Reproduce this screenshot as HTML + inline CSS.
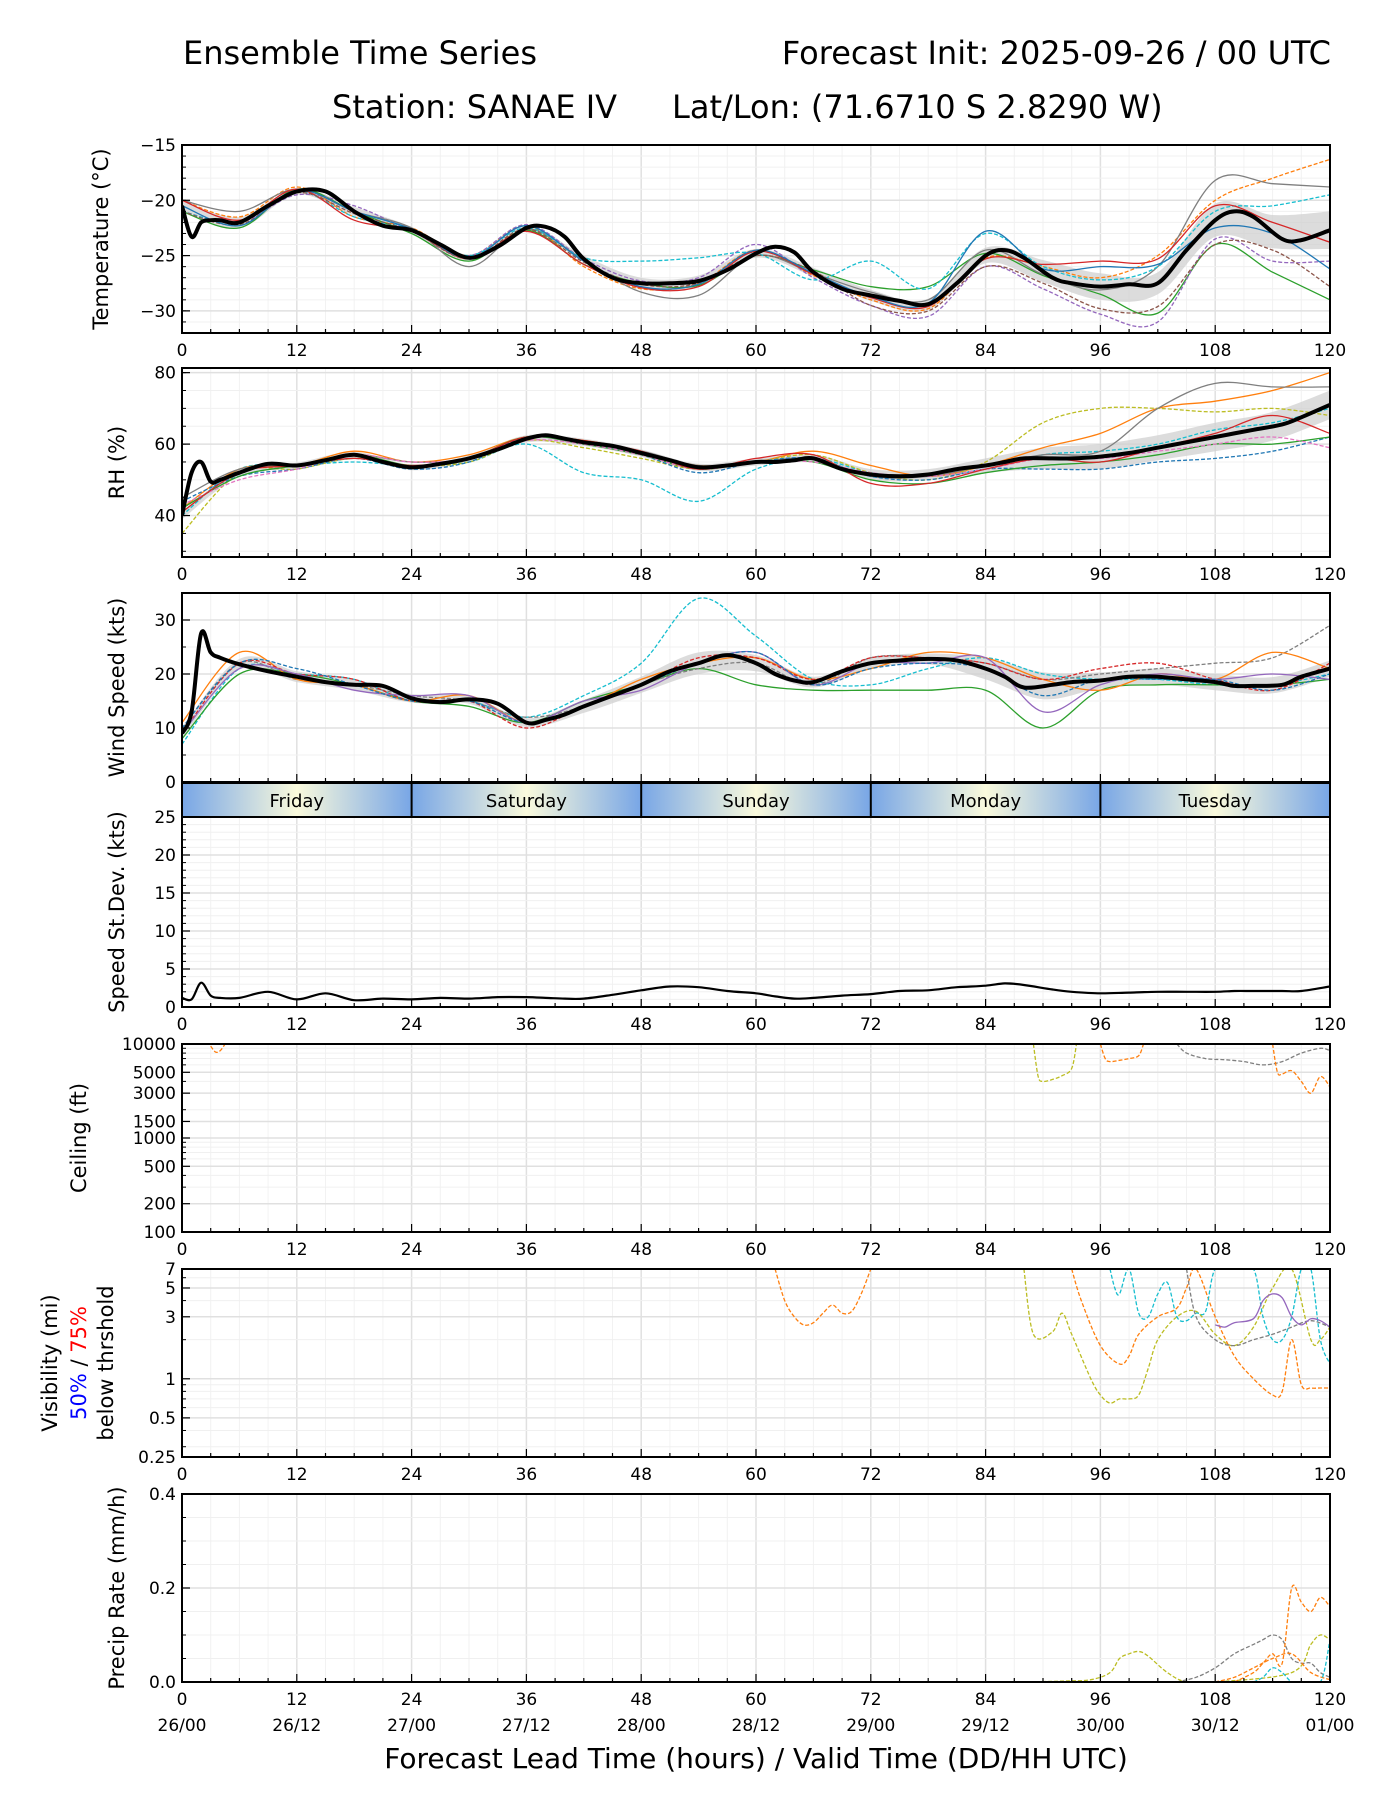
<!DOCTYPE html>
<html><head><meta charset="utf-8"><style>
body{margin:0;background:#fff;}
svg{display:block;font-family:"DejaVu Sans","Liberation Sans",sans-serif;}
</style></head><body>
<svg id="chart" width="1400" height="1800" viewBox="0 0 1400 1800" xmlns="http://www.w3.org/2000/svg">
<rect width="1400" height="1800" fill="#fff"/>
<text x="183" y="64" font-size="32">Ensemble Time Series</text>
<text x="1331" y="64" font-size="32" text-anchor="end">Forecast Init: 2025-09-26 / 00 UTC</text>
<text x="332" y="118" font-size="32">Station: SANAE IV</text>
<text x="672" y="118" font-size="32">Lat/Lon: (71.6710 S 2.8290 W)</text>
<g id="g"></g>
<text x="756" y="1768" font-size="28" text-anchor="middle">Forecast Lead Time (hours) / Valid Time (DD/HH UTC)</text>
</svg>
<script>
// ---- data ----
const H=[0,1,2,3,4,6,9,12,15,18,21,24,27,30,33,36,38,40,42,45,48,51,54,57,60,62,64,66,69,72,75,78,81,84,86,88,91,93,96,99,102,105,108,110,112,115,117,120];
const H6=[0,6,12,18,24,30,36,42,48,54,60,66,72,78,84,90,96,102,108,114,120];
const tempMean=[-20.5,-23.3,-22,-21.8,-21.8,-22,-20.5,-19.2,-19.2,-21,-22.3,-22.7,-24,-25.2,-24.2,-22.5,-22.4,-23.3,-25.3,-27,-27.5,-27.5,-27.3,-26.3,-24.8,-24.2,-24.7,-26.5,-28,-28.6,-29.1,-29.4,-27.5,-25,-24.5,-25.2,-27,-27.5,-27.8,-27.6,-27.5,-24.5,-21.8,-21,-21.5,-23.5,-23.6,-22.7];
const tempSpread=[0.5,0.5,0.3,0.4,0.3,0.3,0.2,0.3,0.5,0.5,0.4,0.4,0.5,0.5,0.7,1,1.2,1,1.5,1.5,1.7];
const tempMembers=[
[-20,-21.5,-18.8,-21.5,-22.5,-25,-22.3,-26,-28,-27.5,-24.5,-26.8,-29,-29.8,-25.2,-26,-27,-25,-20,-18,-16.3],
[-21,-22.5,-19,-21,-23,-25.5,-22.7,-25.8,-27.5,-27.7,-25,-26.3,-27.8,-27.8,-24.8,-26.8,-28.5,-30.2,-24,-26.5,-29],
[-21,-22,-19.5,-20.5,-22.8,-25,-22.2,-25.3,-27.3,-27,-24,-27,-29.5,-30.5,-26,-28,-30.3,-31,-23.5,-25.5,-25.5],
[-20,-21,-19,-21,-22.5,-26,-22.6,-25.4,-28.3,-28.6,-25,-26.6,-28.3,-29,-24.5,-26.7,-28.1,-26,-18.2,-18.5,-18.8],
[-21,-22,-19.2,-21.5,-22.6,-25,-22.5,-25.2,-25.5,-25.2,-24.8,-27.2,-25.5,-28,-23,-26,-27.2,-26,-21,-20.5,-19.5],
[-20,-21.8,-19,-21.8,-22.8,-25.3,-22.8,-25.8,-27.9,-27.8,-24.6,-26.7,-28.8,-29.6,-25.3,-25.8,-25.5,-25.3,-20.5,-22,-23.8],
[-21,-22.2,-19.3,-21.2,-22.8,-25.3,-22.6,-25.6,-27.6,-27.5,-25,-26.4,-29.5,-30,-26,-27.5,-29.8,-29.6,-24,-24.5,-27.8],
[-20.5,-22.3,-19.1,-21,-22.6,-25.2,-22.3,-25.5,-27.8,-27.6,-24.5,-26.6,-28.7,-29.3,-22.8,-26.2,-26,-25.8,-22.5,-23,-26.2]];
const tempColors=["#ff7f0e","#2ca02c","#9467bd","#7f7f7f","#17becf","#d62728","#8c564b","#1f77b4"];
const rhMean=[40,52,55,49.5,50,52,54.5,54,55.5,57,55,53.5,54.5,56,58.5,61.5,62.5,61.5,60.5,59.5,57.5,55.5,53.5,54,55,55,55.5,56,53,51.5,51,51.5,53,54,55,56,56,56,56.5,57.5,59,60.5,62,63,64,65.5,67.5,71];
const rhSpread=[1,1,0.8,0.8,0.8,0.8,1,1,1,1,1,1,1.5,1.5,2,3,3.5,3.5,4,4,4];
const rhMembers=[
[40,53,54,55,54,55,60,52,50,44,53,56,52,51,53,57,58,60,64,66,70],
[42,53,54,58,55,57,62,61,58,54,55,58,54,51,54,59,63,70,72,75,80],
[35,52,53,56,54,55,61,59,56,53,55,57,52,50,55,66,70,70,69,70,68],
[45,53,54,57,55,56,62,60,58,54,55,56,51,51,54,57,58,70,77,76,76],
[44,51,53,56,53,55,62,60,57,52,55,56,51,50,53,53,53,55,56,58,62],
[42,51,54,57,54,56,62,60,57,53,55,55,50,49,52,54,55,57,60,60,62],
[43,50,53,57,55,56,61,60,57,53,55,55,52,51,53,56,56,58,60,62,59],
[41,52,54,56,54,56,62,61,58,53,56,57,49,49,53,56,55,59,63,68,63]];
const rhColors=["#17becf","#ff7f0e","#bcbd22","#7f7f7f","#1f77b4","#2ca02c","#e377c2","#d62728"];
const windMean=[9,13,27.5,24,23,21.8,20.5,19.5,18.5,18,17.8,15.5,14.8,15.3,14.5,11,11.5,12.5,14,16,18,20.5,22,23.5,22,20,18.8,18.5,20.5,22,22.5,22.8,22.5,21,19.5,17.5,18,18.5,18.8,19.5,19.5,19,18.5,17.8,17.8,18,19.5,21];
const windSpread=[1,1,1,1,0.8,0.8,0.8,1.2,1.5,2,1.5,1,1,1,2,2.5,1.5,1.5,1.5,1.5,1.5];
const windMembers=[
[7,21,20,19,15,15,12,16,22,34,27,19,18,21,23,20,19,19,18,18,20],
[8,20,20,18,15,14,11,15,18,21,18,17,17,17,17,10,17,18,18,18,19],
[10,22,19,18,16,15,12,14,18,21,22,18,23,23,22,19,20,21,22,23,29],
[11,24,19,18,15,16,11,14,19,22,23,19,21,24,23,19,17,20,19,24,21],
[9,22,20,19,15,15,10,14,18,23,23,19,23,23,22,19,21,22,19,17,22],
[9,21,20,17,16,16,11,15,17,22,24,18,22,22,23,13,18,20,19,20,19],
[10,22,21,18,15,15,11,14,18,22,24,18,21,22,21,16,19,19,19,17,20]];
const windColors=["#17becf","#2ca02c","#7f7f7f","#ff7f0e","#d62728","#9467bd","#1f77b4"];
const sdevValues=[1.2,1,3.2,1.5,1.2,1.2,2,1,1.8,0.9,1.1,1,1.2,1.1,1.3,1.3,1.2,1.1,1.1,1.6,2.2,2.7,2.6,2.1,1.8,1.4,1.1,1.2,1.5,1.7,2.1,2.2,2.6,2.8,3.1,2.9,2.3,2,1.8,1.9,2,2,2,2.1,2.1,2.1,2.1,2.7];
const ceilHours=[[3,3.5,4,4.5],[89,89.5,90,91,92,93,93.5],[96,96.5,97,98,99,100,100.5],[104,105,107,109,111,113,115,117,119,120],[114,114.5,115,116,117,118,119,120]];
const ceilValues=[[9500,8200,8500,10000],[10000,4500,4000,4200,4600,5500,10000],[10000,7000,6500,6700,7000,7500,10000],[10000,8000,7000,6800,6500,6000,6500,8000,9000,8500],[10000,5000,4800,5200,4000,3000,4500,3500]];
const ceilColors=["#ff7f0e","#bcbd22","#ff7f0e","#7f7f7f","#ff7f0e"];
const visHours=[[62,63,64,65,66,67,68,69,70,71,72],[88,89,91,92,93,95,96,97,98,99,100,101,102,104,106,108,110,112,114,116,118,119,120],[93,94,96,98,99,100,102,104,105,106,108,110,112,114,115,116,117,118,119,120],[97,97.5,98,99,100,101,102,103,104,105,106,107,108,110,112,113,114,115,116,117,118,119,120],[105,106,108,110,112,114,116,118,120],[108,109,110,112,113,114,115,116,117,118,119,120]];
const visValues=[[7,4,3,2.6,2.7,3.2,3.7,3.2,3.3,4.5,7],[7,2.2,2.3,3.2,2.2,1,0.75,0.65,0.7,0.7,0.75,1.2,2,3,3.3,2.2,1.8,2.5,5,7,2,2,2.5],[7,4,1.8,1.3,1.5,2.2,3,3.5,5,7,3,1.5,1,0.75,0.8,2,0.9,0.85,0.85,0.85],[7,5,4.5,7,3.2,3,4.5,5.5,3,2.8,3.2,3.3,7,7,7,3,2,2,3,7,7,2,1.3],[7,3,2,1.8,2,2.2,2.5,2.8,2.5],[2.6,2.5,2.7,2.9,4,4.5,4.2,3,2.6,2.9,2.8,2.5]];
const visColors=["#ff7f0e","#bcbd22","#ff7f0e","#17becf","#7f7f7f","#9467bd"];
const precipHours=[[88,92,95,97,98,99,100,101,103,105,108,116,118,119,120],[104,106,108,110,112,113,114,115,116,117,118,119,120],[110,112,113,114,115,116,117,118,119,120],[108,110,112,114,116,118,120],[112,113,114,115,116,117,119,120]];
const precipValues=[[0,0.002,0.005,0.02,0.05,0.06,0.065,0.055,0.02,0,0,0.02,0.08,0.1,0.09],[0,0.01,0.03,0.06,0.08,0.09,0.1,0.09,0.05,0.04,0.04,0.02,0.01],[0,0.02,0.04,0.06,0.04,0.2,0.17,0.15,0.18,0.16],[0,0.01,0.03,0.05,0.06,0.02,0.005],[0,0.01,0.03,0.02,0,0,0,0.09]];
const precipColors=["#bcbd22","#7f7f7f","#ff7f0e","#ff7f0e","#17becf"];
const dayNames=["Friday","Saturday","Sunday","Monday","Tuesday"];
const dateLabels=["26/00","26/12","27/00","27/12","28/00","28/12","29/00","29/12","30/00","30/12","01/00"];

// ---- drawing ----
const NS="http://www.w3.org/2000/svg";
const G=document.getElementById('g');
const X0=182,X1=1330;
const xs=h=>X0+(X1-X0)*h/120;
function el(tag,attrs,parent){const e=document.createElementNS(NS,tag);for(const k in attrs)e.setAttribute(k,attrs[k]);(parent||G).appendChild(e);return e;}
function smooth(pts){if(!pts.length)return"";let d="M"+pts[0][0].toFixed(1)+","+pts[0][1].toFixed(1);
 for(let i=0;i<pts.length-1;i++){const p0=pts[Math.max(0,i-1)],p1=pts[i],p2=pts[i+1],p3=pts[Math.min(pts.length-1,i+2)];
 const c1=[p1[0]+(p2[0]-p0[0])/6,p1[1]+(p2[1]-p0[1])/6],c2=[p2[0]-(p3[0]-p1[0])/6,p2[1]-(p3[1]-p1[1])/6];
 d+="C"+c1[0].toFixed(1)+","+c1[1].toFixed(1)+" "+c2[0].toFixed(1)+","+c2[1].toFixed(1)+" "+p2[0].toFixed(1)+","+p2[1].toFixed(1);}return d;}
function panel(name,top,bot,ymin,ymax,log,major,minor,labels,ylab,noX){
 const ys=v=>{let t=log?(Math.log(v)-Math.log(ymin))/(Math.log(ymax)-Math.log(ymin)):(v-ymin)/(ymax-ymin);return bot-(bot-top)*t;};
 const g=el('g',{});
 
 
 const cp=el('clipPath',{id:'c'+name},g);el('rect',{x:X0,y:top,width:X1-X0,height:bot-top},cp);
 for(let h=0;h<=120;h+=3){el('line',{x1:xs(h),x2:xs(h),y1:top,y2:bot,stroke:h%12?'#f2f2f2':'#e0e0e0','stroke-width':h%12?1:1.5},g);}
 minor.forEach(v=>el('line',{x1:X0,x2:X1,y1:ys(v),y2:ys(v),stroke:'#f0f0f0','stroke-width':1},g));
 major.forEach(v=>el('line',{x1:X0,x2:X1,y1:ys(v),y2:ys(v),stroke:'#e0e0e0','stroke-width':1.5},g));
 const data=el('g',{'clip-path':'url(#c'+name+')'},g);
 return {g,data,ys,top,bot,finish(){
  el('rect',{x:X0,y:top,width:X1-X0,height:bot-top,fill:'none',stroke:'#000','stroke-width':2},g);
  for(let h=0;h<=120;h+=3){const big=h%12===0;el('line',{x1:xs(h),x2:xs(h),y1:bot,y2:bot-(big?8:4),stroke:'#000','stroke-width':1.2},g);}
  minor.forEach(v=>el('line',{x1:X0,x2:X0+4,y1:ys(v),y2:ys(v),stroke:'#000','stroke-width':1},g));
  major.forEach((v,i)=>{el('line',{x1:X0,x2:X0+8,y1:ys(v),y2:ys(v),stroke:'#000','stroke-width':1.2},g);
   const t=el('text',{x:X0-6,y:ys(v)+6,'font-size':17,'text-anchor':'end'},g);t.textContent=labels[i];
   
   });
  if(!noX)for(let h=0;h<=120;h+=12){const t=el('text',{x:xs(h),y:bot+23,'font-size':17,'text-anchor':'middle'},g);t.textContent=h;
   
   }
  if(ylab){const t=el('text',{x:ylab[0],y:(top+bot)/2,'font-size':21,'text-anchor':'middle',transform:'rotate(-90 '+ylab[0]+' '+(top+bot)/2+')'},g);t.textContent=ylab[1];
   
   }
 }};
}
function ens(p,mean,spread,members,colors,name){
 const interp=h=>{for(let i=0;i<H.length-1;i++)if(h>=H[i]&&h<=H[i+1])return mean[i]+(mean[i+1]-mean[i])*(h-H[i])/(H[i+1]-H[i]);return mean[mean.length-1];};
 const a=H6.map((h,i)=>[xs(h),p.ys(interp(h)+spread[i])]),b=H6.map((h,i)=>[xs(h),p.ys(interp(h)-spread[i])]).reverse();
 const band=el('path',{d:smooth(a)+"L"+smooth(b).slice(1)+"Z",fill:'#d0d0d0','fill-opacity':0.75},p.data);
 
 
 members.forEach((m,k)=>{const path=el('path',{d:smooth(H6.map((h,i)=>[xs(h),p.ys(m[i])])),fill:'none',stroke:colors[k],'stroke-width':1.3,'stroke-dasharray':k%2?'none':'4 2'},p.data);
  
  });
 const ml=el('path',{d:smooth(H.map((h,i)=>[xs(h),p.ys(mean[i])])),fill:'none',stroke:'#000','stroke-width':4},p.data);
 
 
}
function range(a,b,s){const r=[];for(let v=a;v<=b+1e-9;v+=s)r.push(+v.toFixed(3));return r;}

let p=panel('temperature',145,333,-32,-15,false,[-30,-25,-20,-15],range(-32,-15,1),["−30","−25","−20","−15"],[108,'Temperature (°C)']);
ens(p,tempMean,tempSpread,tempMembers,tempColors,'temperature');p.finish();
p=panel('rh',368,557,28.4,81.3,false,[40,60,80],range(30,80,5),["40","60","80"],[124,'RH (%)']);
ens(p,rhMean,rhSpread,rhMembers,rhColors,'rh');p.finish();
p=panel('wind',593,782,0,35,false,[0,10,20,30],range(0,35,5),["0","10","20","30"],[124,'Wind Speed (kts)'],true);
ens(p,windMean,windSpread,windMembers,windColors,'wind');p.finish();
// day bar
(function(){const top=783,bot=817;const defs=el('defs',{});
 const lg=el('linearGradient',{id:'dayg',x1:0,x2:1,y1:0,y2:0},defs);
 [['0','#78a6e6'],['0.5','#fafadc'],['1','#78a6e6']].forEach(s=>el('stop',{offset:s[0],'stop-color':s[1]},lg));
 dayNames.forEach((d,i)=>{const r=el('rect',{x:xs(i*24),y:top,width:xs(24)-xs(0),height:bot-top,fill:'url(#dayg)'});
  
  
  const t=el('text',{x:xs(i*24+12),y:top+24,'font-size':18,'text-anchor':'middle'});t.textContent=d;
  
  
  if(i>0)el('line',{x1:xs(i*24),x2:xs(i*24),y1:top,y2:bot,stroke:'#000','stroke-width':2});});
 el('rect',{x:X0,y:top,width:X1-X0,height:bot-top,fill:'none',stroke:'#000','stroke-width':2});})();
p=panel('stdev',817,1007,0,25,false,[0,5,10,15,20,25],range(0,25,1),["0","5","10","15","20","25"],[124,'Speed St.Dev. (kts)']);
{const l=el('path',{d:smooth(H.map((h,i)=>[xs(h),p.ys(sdevValues[i])])),fill:'none',stroke:'#000','stroke-width':2.2},p.data);

}
p.finish();
p=panel('ceiling',1044,1232,100,10000,true,[100,200,500,1000,1500,3000,5000,10000],[300,400,600,700,800,900,2000,4000,6000,7000,8000,9000],["100","200","500","1000","1500","3000","5000","10000"],[86,'Ceiling (ft)']);
ceilHours.forEach((hs,k)=>{const l=el('path',{d:smooth(hs.map((h,i)=>[xs(h),p.ys(ceilValues[k][i])])),fill:'none',stroke:ceilColors[k],'stroke-width':1.3,'stroke-dasharray':'4 2'},p.data);
 
 });
p.finish();
p=panel('visibility',1269,1457,0.25,7,true,[0.25,0.5,1,3,5,7],[0.3,0.4,0.6,0.7,0.8,0.9,2,4,6],["0.25","0.5","1","3","5","7"],null);
visHours.forEach((hs,k)=>{const l=el('path',{d:smooth(hs.map((h,i)=>[xs(h),p.ys(visValues[k][i])])),fill:'none',stroke:visColors[k],'stroke-width':1.3,'stroke-dasharray':k===5?'none':'4 2'},p.data);
 
 });
p.finish();
{const cy=1363;
 const t1=el('text',{x:57,y:cy,'font-size':21,'text-anchor':'middle',transform:'rotate(-90 57 '+cy+')'});t1.textContent='Visibility (mi)';
 
 
 const t2=el('text',{x:86,y:cy,'font-size':21,'text-anchor':'middle',transform:'rotate(-90 86 '+cy+')'});
 t2.innerHTML='<tspan fill="#0000ff">50%</tspan> / <tspan fill="#ff0000">75%</tspan>';
 
 
 const t3=el('text',{x:113,y:cy,'font-size':21,'text-anchor':'middle',transform:'rotate(-90 113 '+cy+')'});t3.textContent='below thrshold';
 
 }
p=panel('precip',1494,1682,0,0.4,false,[0,0.2,0.4],range(0,0.4,0.05),["0.0","0.2","0.4"],[124,'Precip Rate (mm/h)']);
precipHours.forEach((hs,k)=>{const l=el('path',{d:smooth(hs.map((h,i)=>[xs(h),p.ys(precipValues[k][i])])),fill:'none',stroke:precipColors[k],'stroke-width':1.3,'stroke-dasharray':'4 2'},p.data);
 
 });
p.finish();
dateLabels.forEach((d,i)=>{const t=el('text',{x:xs(i*12),y:1731,'font-size':17,'text-anchor':'middle'});t.textContent=d;
 
 });
</script>
</body></html>
